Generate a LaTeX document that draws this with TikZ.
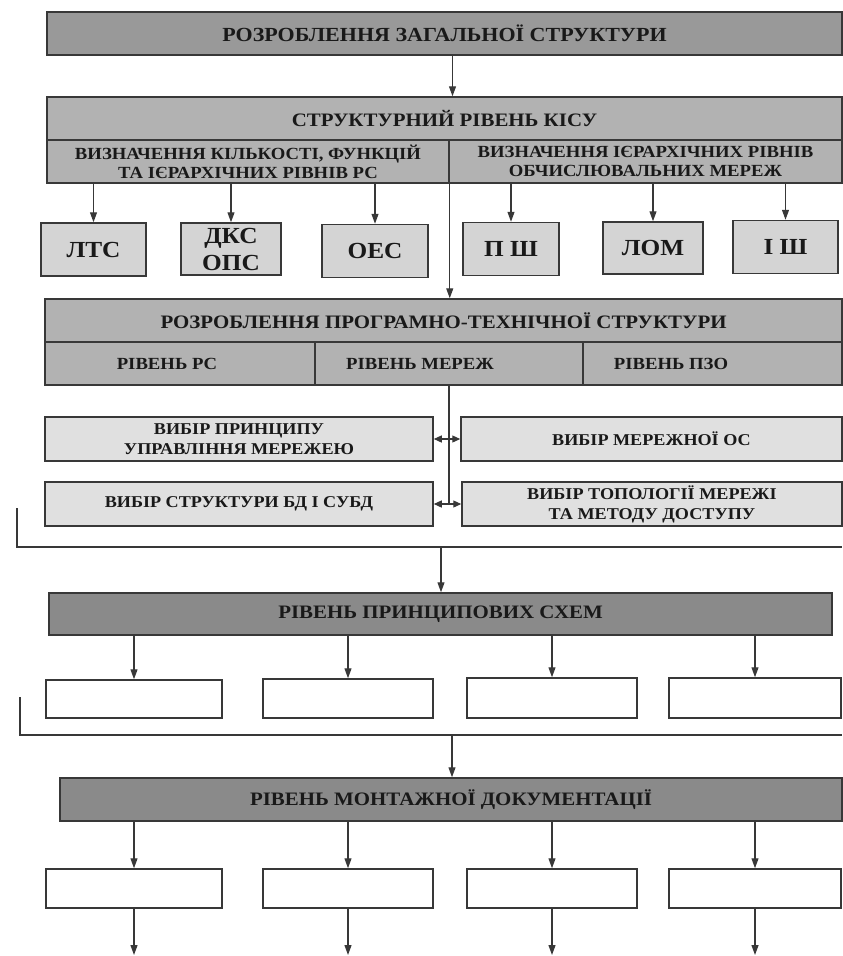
\documentclass[tikz,border=0pt]{standalone}
\usepackage{fontspec}
\setmainfont{Liberation Serif}
\newfontfamily\wide[FakeStretch=1.1]{Liberation Serif}
\usetikzlibrary{arrows.meta}
\tikzstyle{box}=[draw=black!78,line width=1.5pt,inner sep=0pt,align=center,text=black!90]
\tikzstyle{top}=[box,fill=black!40,font=\wide\bfseries\fontsize{20}{23}\selectfont]
\tikzstyle{level}=[box,fill=black!30,font=\wide\bfseries\fontsize{19}{22}\selectfont]
\tikzstyle{sublevel}=[box,fill=black!30,font=\wide\bfseries\fontsize{17}{19}\selectfont]
\tikzstyle{cell}=[box,fill=black!30]
\tikzstyle{celltext}=[inner sep=0pt,text=black!90,font=\wide\bfseries\fontsize{17}{18}\selectfont]
\tikzstyle{unit}=[box,fill=black!17,font=\wide\bfseries\fontsize{23}{27}\selectfont]
\tikzstyle{choice}=[box,fill=black!12,font=\wide\bfseries\fontsize{16.5}{20}\selectfont]
\tikzstyle{dark}=[box,fill=black!46,font=\wide\bfseries\fontsize{19}{22}\selectfont]
\tikzstyle{blank}=[box,fill=white]
\tikzstyle{line}=[draw=black!78,line width=1.2pt]
\tikzstyle{arr}=[line,-{Triangle[length=10pt,width=7pt]}]
\tikzstyle{darr}=[line,{Triangle[length=8pt,width=7pt]}-{Triangle[length=8pt,width=7pt]}]

\begin{document}
\begin{tikzpicture}[x=1pt,y=-1pt]
  \useasboundingbox (0,0) rectangle (843,956);

  \node (razrob) at (444.5,33.5) [top,minimum width=795,minimum height=43] {РОЗРОБЛЕННЯ ЗАГАЛЬНОЇ СТРУКТУРИ};

  \node (kisu) at (444.5,118.5) [level,minimum width=795,minimum height=43] {СТРУКТУРНИЙ РІВЕНЬ КІСУ};
  \node (kisuL) at (248,161.5) [sublevel,minimum width=402,minimum height=43] {ВИЗНАЧЕННЯ КІЛЬКОСТІ, ФУНКЦІЙ\\ТА ІЄРАРХІЧНИХ РІВНІВ РС};
  \node (kisuR) at (645.5,161.5) [sublevel,minimum width=393,minimum height=43] {ВИЗНАЧЕННЯ ІЄРАРХІЧНИХ РІВНІВ\\ОБЧИСЛЮВАЛЬНИХ МЕРЕЖ};

  \node (lts) at (93.5,249.5) [unit,minimum width=105,minimum height=53] {ЛТС};
  \node (dks) at (231,249) [unit,minimum width=100,minimum height=52] {ДКС\\ОПС};
  \node (oes) at (375,251) [unit,minimum width=106,minimum height=53] {ОЕС};
  \node (psh) at (511,249) [unit,minimum width=96,minimum height=53] {П Ш};
  \node (lom) at (653,248) [unit,minimum width=100,minimum height=52] {ЛОМ};
  \node (ish) at (785.5,247) [unit,minimum width=105,minimum height=53] {І Ш};

  \node (prog) at (443.5,320.5) [level,minimum width=797,minimum height=43] {РОЗРОБЛЕННЯ ПРОГРАМНО-ТЕХНІЧНОЇ СТРУКТУРИ};
  \node (progA) at (180,363.5) [cell,minimum width=270,minimum height=43] {};
  \node (progB) at (449,363.5) [cell,minimum width=268,minimum height=43] {};
  \node (progC) at (712.5,363.5) [cell,minimum width=259,minimum height=43] {};
  \node (rs) at (167,364) [celltext] {РІВЕНЬ РС};
  \node (mr) at (420,364) [celltext] {РІВЕНЬ МЕРЕЖ};
  \node (pzo) at (671,364) [celltext] {РІВЕНЬ ПЗО};

  \node (vpu) at (239,439) [choice,minimum width=388,minimum height=44] {ВИБІР ПРИНЦИПУ\\УПРАВЛІННЯ МЕРЕЖЕЮ};
  \node (vmos) at (651.5,439) [choice,minimum width=381,minimum height=44] {ВИБІР МЕРЕЖНОЇ ОС};
  \node (vsb) at (239,504) [choice,minimum width=388,minimum height=44] {ВИБІР СТРУКТУРИ БД І СУБД};
  \node (vtop) at (652,504) [choice,minimum width=380,minimum height=44] {ВИБІР ТОПОЛОГІЇ МЕРЕЖІ\\ТА МЕТОДУ ДОСТУПУ};

  \node (sxem) at (440.5,614) [dark,minimum width=783,minimum height=42] {РІВЕНЬ ПРИНЦИПОВИХ СХЕМ};
  \node (s1) at (134,699) [blank,minimum width=176,minimum height=38] {};
  \node (s2) at (348,698.5) [blank,minimum width=170,minimum height=39] {};
  \node (s3) at (552,698) [blank,minimum width=170,minimum height=40] {};
  \node (s4) at (755,698) [blank,minimum width=172,minimum height=40] {};

  \node (mont) at (451,799.5) [dark,minimum width=782,minimum height=43] {РІВЕНЬ МОНТАЖНОЇ ДОКУМЕНТАЦІЇ};
  \node (m1) at (134,888.5) [blank,minimum width=176,minimum height=39] {};
  \node (m2) at (348,888.5) [blank,minimum width=170,minimum height=39] {};
  \node (m3) at (552,888.5) [blank,minimum width=170,minimum height=39] {};
  \node (m4) at (755,888.5) [blank,minimum width=172,minimum height=39] {};

  \coordinate (k1) at (17,508);
  \coordinate (k2) at (842,547);
  \coordinate (j1) at (441,547);
  \coordinate (k3) at (20,697);
  \coordinate (k4) at (842,735);
  \coordinate (j2) at (452,735);
  \coordinate (o1) at (134,955);
  \coordinate (o2) at (348,955);
  \coordinate (o3) at (552,955);
  \coordinate (o4) at (755,955);

  \draw [arr] ([xshift=8pt]razrob.south) -- ([xshift=8pt]kisu.north);

  \draw [arr] (lts |- kisuL.south) -- (lts.north);
  \draw [arr] (dks |- kisuL.south) -- (dks.north);
  \draw [arr] (oes |- kisuL.south) -- (oes.north);
  \draw [arr] (psh |- kisuR.south) -- (psh.north);
  \draw [arr] (lom |- kisuR.south) -- (lom.north);
  \draw [arr] (ish |- kisuR.south) -- (ish.north);
  \draw [arr] (kisuL.south east) -- (kisuL.south east |- prog.north);

  \draw [line] (progB.south) -- (progB.south |- vsb.east);
  \draw [darr] (vpu) -- (vmos);
  \draw [darr] (vsb) -- (vtop);

  \draw [line] (k1) |- (k2);
  \draw [arr] (j1) -- (j1 |- sxem.north);

  \draw [arr] (s1 |- sxem.south) -- (s1.north);
  \draw [arr] (s2 |- sxem.south) -- (s2.north);
  \draw [arr] (s3 |- sxem.south) -- (s3.north);
  \draw [arr] (s4 |- sxem.south) -- (s4.north);

  \draw [line] (k3) |- (k4);
  \draw [arr] (j2) -- (j2 |- mont.north);

  \draw [arr] (m1 |- mont.south) -- (m1.north);
  \draw [arr] (m2 |- mont.south) -- (m2.north);
  \draw [arr] (m3 |- mont.south) -- (m3.north);
  \draw [arr] (m4 |- mont.south) -- (m4.north);
  \draw [arr] (m1.south) -- (o1);
  \draw [arr] (m2.south) -- (o2);
  \draw [arr] (m3.south) -- (o3);
  \draw [arr] (m4.south) -- (o4);
\end{tikzpicture}
\end{document}
